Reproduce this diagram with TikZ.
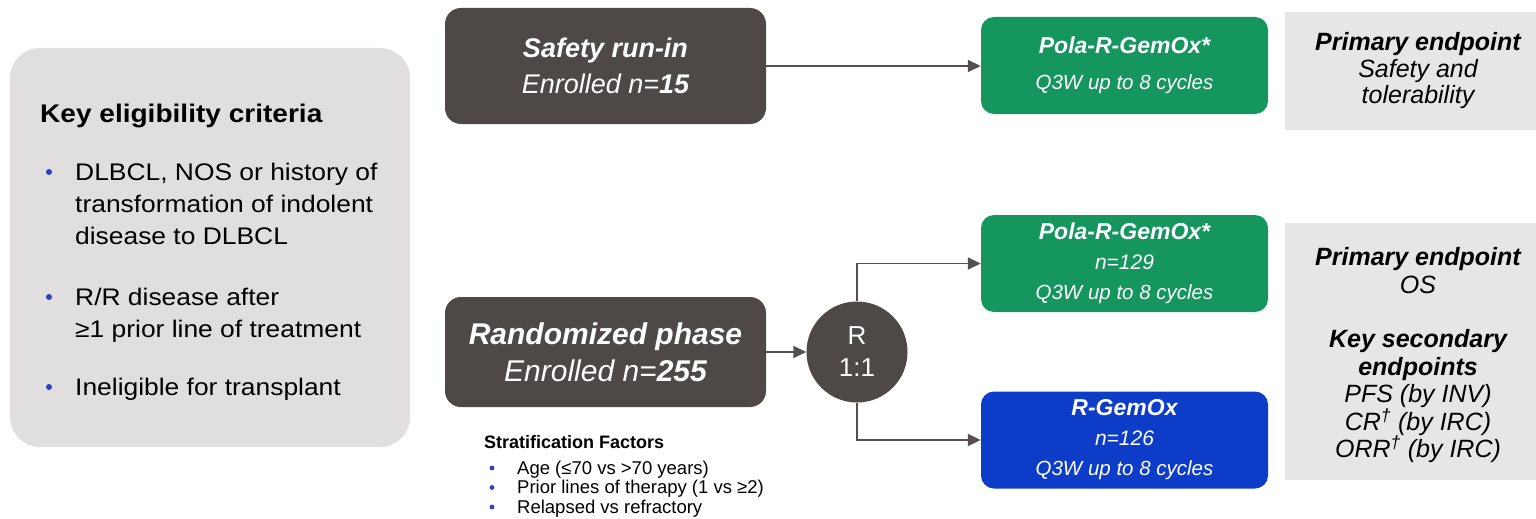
\documentclass[tikz,border=0pt]{standalone}
\usepackage{fontspec}
\setmainfont{Liberation Sans}
\newfontfamily\critfont[FakeStretch=1.1]{Liberation Sans}
\usetikzlibrary{arrows.meta,positioning}
\definecolor{boxdark}{RGB}{78,72,70}
\definecolor{armgreen}{RGB}{22,150,95}
\definecolor{armblue}{RGB}{12,60,200}
\definecolor{critgray}{RGB}{224,222,222}
\definecolor{endgray}{RGB}{230,230,230}
\definecolor{linegray}{RGB}{85,80,80}
\definecolor{dotblue}{RGB}{45,65,190}
\newcommand{\fs}[2]{\fontsize{#1}{#2}\selectfont}

\begin{document}
\begin{tikzpicture}[x=1pt,y=-1pt,
  phase/.style={fill=boxdark,rounded corners=16pt,minimum width=321pt,text=white,align=center,inner sep=0pt},
  arm/.style={rounded corners=13pt,minimum width=287pt,minimum height=97pt,text=white,align=center,inner sep=0pt,font=\fs{22}{30}},
  endpt/.style={fill=endgray,minimum width=266pt,align=center,inner sep=0pt,text=black,font=\fs{25}{26.5}},
  flow/.style={draw=linegray,line width=1.8pt,-{Triangle[length=13pt,width=12pt]}},
  ]
\useasboundingbox (0,0) rectangle (1536,519);
% eligibility (multi-line nodes: base = last line)
\node[fill=critgray,rounded corners=30pt,minimum width=400pt,minimum height=399pt] (crit) at (210,247.5) {};
\node[anchor=base west,inner sep=0pt,font=\critfont\fs{25.5}{30}\bfseries] (crittitle) at (40,122) {Key eligibility criteria};
\node[anchor=base west,inner sep=0pt,align=left,font=\critfont\fs{24}{32}] (critA) at (75,244) {DLBCL, NOS or history of\\transformation of indolent\\disease to DLBCL};
\node[anchor=base west,inner sep=0pt,align=left,font=\critfont\fs{24}{32}] (critB) at (75,337) {R/R disease after\\≥1 prior line of treatment};
\node[anchor=base west,inner sep=0pt,align=left,font=\critfont\fs{24}{32}] (critC) at (75,395) {Ineligible for transplant};
\foreach \y in {172,297,387} \fill[dotblue] (49,\y) circle (3pt);
% phases
\node[phase,minimum height=116pt,font=\fs{27}{36}] (safety) at (605.5,66)
  {{\bfseries\itshape Safety run-in}\\{\itshape Enrolled n=\bfseries 15}};
\node[phase,minimum height=110pt,font=\fs{30}{37}] (random) at (605.5,352)
  {{\bfseries\itshape Randomized phase}\\{\itshape Enrolled n=\bfseries 255}};
\node[circle,fill=boxdark,minimum size=101pt,inner sep=0pt,text=white,align=center,font=\fs{26}{32}] (rand) at (857,352) {R\\1:1};
% stratification
\node[anchor=base west,inner sep=0pt,font=\fs{18}{19}\bfseries] (strat) at (484,448) {Stratification Factors};
\node[anchor=base west,inner sep=0pt,align=left,font=\fs{18.5}{19.5}] (stratlist) at (517,513)
  {Age (≤70 vs >70 years)\\Prior lines of therapy (1 vs ≥2)\\Relapsed vs refractory};
\foreach \y in {468,487.5,507} \fill[dotblue] (492,\y) circle (2.4pt);
% arms
\node[arm,fill=armgreen,font=\fs{22}{36}] (polaA) at (1124.5,65.5)
  {{\fs{23}{36}\bfseries\itshape Pola-R-GemOx*}\\{\fs{20.5}{36}\itshape Q3W up to 8 cycles}};
\node[arm,fill=armgreen] (polaB) at (1124.5,263.5)
  {{\fs{23}{30}\bfseries\itshape Pola-R-GemOx*}\\{\fs{21}{30}\itshape n=129}\\{\fs{20.5}{30}\itshape Q3W up to 8 cycles}};
\node[arm,fill=armblue] (rgemox) at (1124.5,440)
  {{\fs{23}{30}\bfseries\itshape R-GemOx}\\{\fs{21}{30}\itshape n=126}\\{\fs{20.5}{30}\itshape Q3W up to 8 cycles}};
% endpoints
\node[endpt,minimum height=118pt] (endA) at (1418,71)
  {{\bfseries\itshape Primary endpoint}\\{\itshape Safety and}\\{\itshape tolerability}};
\node[endpt,minimum height=257pt] (endB) at (1418,351.5) {};
\node[align=center,inner sep=0pt,font=\fs{25}{27.5}] (endBtext) at ([yshift=-4pt]endB.center)
  {{\bfseries\itshape Primary endpoint}\\{\itshape OS}\\[27pt]{\bfseries\itshape Key secondary}\\{\bfseries\itshape endpoints}\\
   {\itshape PFS (by INV)}\\{\itshape CR\textsuperscript{†} (by IRC)}\\{\itshape ORR\textsuperscript{†} (by IRC)}};
% connectors
\draw[flow] (safety.east) -- (safety.east -| polaA.west);
\draw[flow] (random.east) -- (rand.west);
\draw[flow] (rand.north) |- (polaB.west);
\draw[flow] (rand.south) |- (rgemox.west);
\end{tikzpicture}
\end{document}
